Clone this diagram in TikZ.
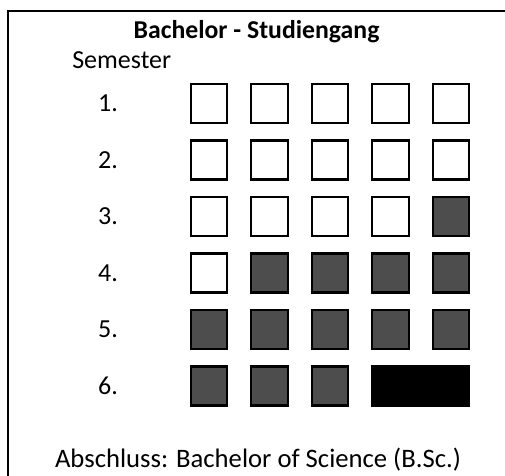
\documentclass[tikz,border=0pt]{standalone}
\usepackage{fontspec}
\setmainfont{Carlito}
\usepackage{tikz}
\usetikzlibrary{positioning}
\definecolor{belegtgrau}{RGB}{77,77,77}
\tikzset{
  x=0.75pt,y=-0.75pt,
  every node/.style={font=\fontsize{19.5}{23}\selectfont,inner sep=0},
  modul/.style={shape=rectangle,draw=black,line width=1.8pt,minimum width=27.4pt,minimum height=29pt},
  offen/.style={modul,fill=white},
  belegt/.style={modul,fill=belegtgrau},
  abschluss/.style={modul,fill=black,minimum width=72.6pt}
}
\begin{document}
\begin{tikzpicture}
      \clip (0,0) rectangle (505,475);
      \draw[line width=1.5pt] (7.5,540) -- (7.5,11) -- (560,11);
      \node[anchor=base,font=\fontsize{19.3}{23}\selectfont\bfseries] (titel) at (256.5,38) {Bachelor - Studiengang};
      \node[anchor=base west] (sem) at (72,68) {Semester};
      \foreach \r/\n in {1/0,2/0,3/1,4/4,5/5,6/5} {
        \node (s\r) at (108,{103.5+56.5*(\r-1)}) {\r.};
        \pgfmathtruncatemacro\grenze{5-\n}
        \foreach \c in {1,...,5} {
          \ifnum\c>\grenze \def\art{belegt}\else\def\art{offen}\fi
          \ifnum\r=6 \ifnum\c>3 \def\art{}\fi\fi
          \ifx\art\empty\else
            \node[\art] (m\r\c) at ({209+60.5*(\c-1)},{103.5+56.5*(\r-1)}) {};
          \fi
        }
      }
      \node[abschluss] (bsc) at (420.5,386) {};
      \node[anchor=base,font=\fontsize{20}{24}\selectfont] (abs) at (258,467) {Abschluss: Bachelor of Science (B.Sc.)};
    \end{tikzpicture}
\end{document}
